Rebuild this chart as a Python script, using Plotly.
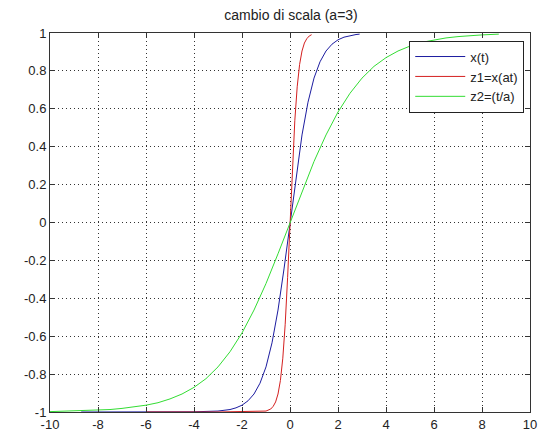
import plotly.graph_objects as go

# x(t): values
t_x = [-8.7, -6, -4, -3, -2.75, -2.5, -2.25, -2, -1.75, -1.5, -1.25, -1, -0.75, -0.5, -0.25,
       0, 0.25, 0.5, 0.75, 1, 1.25, 1.5, 1.75, 2, 2.25, 2.5, 2.75, 2.9]
y_x = [-1.0, -1.0, -0.999, -0.995, -0.992, -0.987, -0.978, -0.964, -0.941, -0.905, -0.848, -0.762, -0.635, -0.462, -0.245,
       0.0, 0.245, 0.462, 0.635, 0.762, 0.848, 0.905, 0.941, 0.964, 0.978, 0.987, 0.992, 0.994]

# z1 = x(at)
t_z1 = [-6, -3, -1, -0.9, -0.8, -0.7, -0.6, -0.5, -0.4, -0.3, -0.2, -0.1,
        0, 0.1, 0.2, 0.3, 0.4, 0.5, 0.6, 0.7, 0.8, 0.9]
y_z1 = [-1.0, -1.0, -0.995, -0.991, -0.984, -0.970, -0.947, -0.905, -0.834, -0.716, -0.537, -0.291,
        0.0, 0.291, 0.537, 0.716, 0.834, 0.905, 0.947, 0.970, 0.984, 0.991]

# z2 = x(t/a)
t_z2 = [-10, -9.5, -9, -8.5, -8, -7.5, -7, -6.5, -6, -5.5, -5, -4.5, -4, -3.5, -3, -2.5, -2, -1.5, -1, -0.5,
        0, 0.5, 1, 1.5, 2, 2.5, 3, 3.5, 4, 4.5, 5, 5.5, 6, 6.5, 7, 7.5, 8, 8.7]
y_z2 = [-0.998, -0.996, -0.995, -0.993, -0.990, -0.987, -0.981, -0.974, -0.964, -0.951, -0.931, -0.905, -0.870, -0.824,
        -0.762, -0.682, -0.583, -0.462, -0.322, -0.165,
        0.0, 0.165, 0.322, 0.462, 0.583, 0.682, 0.762, 0.824, 0.870, 0.905, 0.931, 0.951, 0.964, 0.974, 0.981,
        0.987, 0.990, 0.994]

x_ticks = [-10, -8, -6, -4, -2, 0, 2, 4, 6, 8, 10]
x_tick_text = ["-10", "-8", "-6", "-4", "-2", "0", "2", "4", "6", "8", "10"]
y_ticks = [-1, -0.8, -0.6, -0.4, -0.2, 0, 0.2, 0.4, 0.6, 0.8, 1]
y_tick_text = ["-1", "-0.8", "-0.6", "-0.4", "-0.2", "0", "0.2", "0.4", "0.6", "0.8", "1"]

fig = go.Figure()
fig.add_trace(go.Scatter(x=t_x, y=y_x, mode="lines", name="x(t)",
                         line=dict(color="#1c1ca0", width=1)))
fig.add_trace(go.Scatter(x=t_z1, y=y_z1, mode="lines", name="z1=x(at)",
                         line=dict(color="#d42020", width=1)))
fig.add_trace(go.Scatter(x=t_z2, y=y_z2, mode="lines", name="z2=(t/a)",
                         line=dict(color="#33dd33", width=1)))

font = dict(family="Liberation Sans, Arial, sans-serif", size=13, color="#222222")
axis_common = dict(showline=True, linecolor="#333333", linewidth=1, mirror="all",
                   ticks="inside", ticklen=5, tickcolor="#333333",
                   showgrid=True, gridcolor="#333333", griddash="1px,3px", gridwidth=1,
                   zeroline=False, tickfont=font, automargin=False)

fig.update_layout(
    width=539, height=432,
    margin=dict(l=50, r=9, t=33, b=20),
    paper_bgcolor="white", plot_bgcolor="white",
    title=dict(text="cambio di scala (a=3)", x=0.54, xanchor="center", y=0.965, yanchor="middle",
               font=dict(family="Liberation Sans, Arial, sans-serif", size=14, color="#222222")),
    xaxis=dict(range=[-10, 10], tickvals=x_ticks, ticktext=x_tick_text, ticklabelstandoff=0, **axis_common),
    yaxis=dict(range=[-1, 1], tickvals=y_ticks, ticktext=y_tick_text, **axis_common),
    legend=dict(x=0.988, y=0.98, xanchor="right", yanchor="top",
                bgcolor="white", bordercolor="#222222", borderwidth=1,
                font=font, tracegroupgap=0, itemwidth=50),
    showlegend=True,
)

fig.write_html("out.html")
